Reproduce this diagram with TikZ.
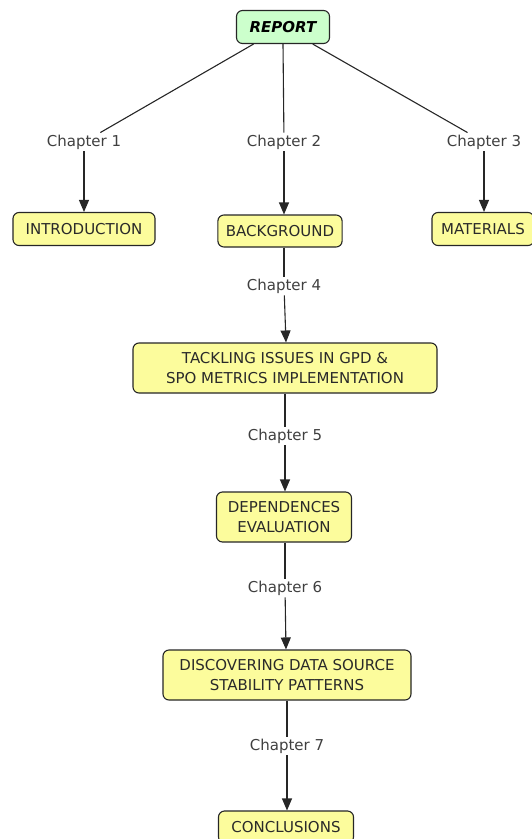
\documentclass[tikz,border=0pt]{standalone}
\usepackage{fontspec}
\setmainfont{DejaVu Sans}
\usetikzlibrary{arrows.meta}
\definecolor{boxyellow}{HTML}{FCFC9C}
\definecolor{boxgreen}{HTML}{CCFFCC}
\definecolor{txtgray}{HTML}{2A2A2A}
\begin{document}
\begin{tikzpicture}[x=1pt,y=-1pt,
  concept/.style={draw=black!85, line width=1.1pt, rounded corners=6pt, fill=boxyellow,
    font=\fontsize{15}{19.5}\selectfont, text=txtgray, align=center, inner xsep=8pt, inner ysep=4pt},
  rootbox/.style={concept, fill=boxgreen, font=\fontsize{15}{19}\selectfont\bfseries\itshape, text=black},
  linklabel/.style={font=\fontsize{15}{19}\selectfont, text=txtgray!90, inner sep=2pt},
  link/.style={draw=black!85, line width=1.1pt},
  arr/.style={link, -{Triangle[width=10pt,length=12pt]}}
]
\useasboundingbox (0,0) rectangle (531,839);
\node[rootbox, minimum width=93pt, minimum height=33pt] (report) at (283,27) {REPORT};
\node[linklabel] (c1) at (84,142) {Chapter 1};
\node[linklabel] (c2) at (284,142) {Chapter 2};
\node[linklabel] (c3) at (484,142) {Chapter 3};
\node[concept, minimum width=142pt, minimum height=33pt] (intro) at (84,229) {INTRODUCTION};
\node[concept, minimum width=124pt, minimum height=32pt] (back) at (280,231) {BACKGROUND};
\node[concept, minimum width=102pt, minimum height=33pt] (mat) at (483,229) {MATERIALS};
\node[linklabel] (c4) at (284,286) {Chapter 4};
\node[concept, minimum width=304pt, minimum height=50pt] (tack) at (285,368) {TACKLING ISSUES IN GPD \&\\SPO METRICS IMPLEMENTATION};
\node[linklabel] (c5) at (285,436) {Chapter 5};
\node[concept, minimum width=135pt, minimum height=50pt] (dep) at (284,517) {DEPENDENCES\\EVALUATION};
\node[linklabel] (c6) at (285,588) {Chapter 6};
\node[concept, minimum width=248pt, minimum height=50pt] (disc) at (287,675) {DISCOVERING DATA SOURCE\\STABILITY PATTERNS};
\node[linklabel] (c7) at (287,746) {Chapter 7};
\node[concept, minimum width=135pt, minimum height=32pt] (conc) at (286,827) {CONCLUSIONS};

\draw[link] (report) -- (c1);
\draw[link] (report.south) -- (c2);
\draw[link] (report) -- (c3);
\draw[arr] (c1) -- (intro);
\draw[arr] (c2) -- (back.north -| c2);
\draw[arr] (c3) -- (mat.north -| c3);
\draw[link] (back.south -| c4) -- (c4);
\draw[arr] (c4) -- (tack.north -| 286,0);
\draw[link] (tack.south -| c5) -- (c5);
\draw[arr] (c5) -- (dep.north -| c5);
\draw[link] (dep.south -| c6) -- (c6);
\draw[arr] (c6) -- (disc.north -| 286,0);
\draw[link] (disc.south -| c7) -- (c7);
\draw[arr] (c7) -- (conc.north -| c7);
\end{tikzpicture}
\end{document}
